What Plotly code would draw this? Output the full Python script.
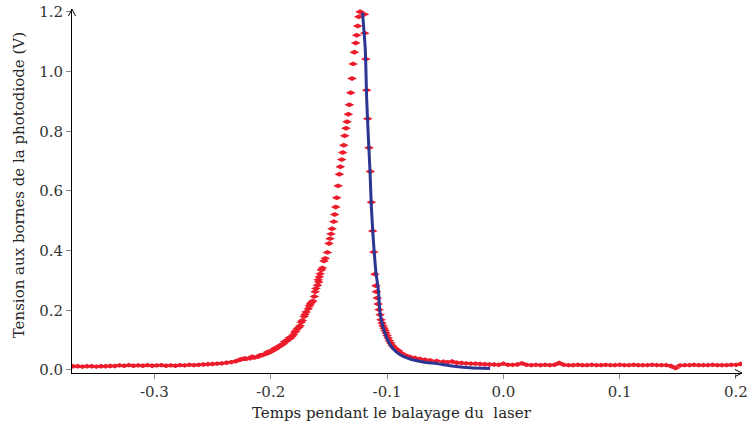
import plotly.graph_objects as go

# Photodiode voltage recorded while sweeping the laser (time in arbitrary sweep units)
t_base_left = [-0.370, -0.366, -0.362, -0.358, -0.354, -0.350, -0.346, -0.342,
               -0.338, -0.334, -0.330, -0.326, -0.322, -0.318, -0.314, -0.310,
               -0.306, -0.302, -0.298, -0.294, -0.290, -0.286, -0.282, -0.278,
               -0.274, -0.270, -0.266, -0.262, -0.258, -0.254, -0.250, -0.246]
v_base_left = [0.012, 0.012, 0.011, 0.012, 0.012, 0.011, 0.012, 0.012,
               0.013, 0.013, 0.015, 0.014, 0.016, 0.014, 0.015, 0.014,
               0.016, 0.014, 0.015, 0.016, 0.014, 0.015, 0.014, 0.016,
               0.015, 0.017, 0.016, 0.017, 0.018, 0.019, 0.020, 0.021]

t_rise = [-0.242, -0.238, -0.234, -0.230, -0.2265, -0.2249, -0.221, -0.2178,
          -0.214, -0.2107, -0.207, -0.2040, -0.201, -0.1983, -0.196, -0.1935,
          -0.191, -0.1892, -0.187, -0.1851, -0.183, -0.1819, -0.1794, -0.1774,
          -0.1760, -0.1748, -0.1728, -0.1713, -0.1696, -0.1677, -0.1660, -0.1639,
          -0.1625, -0.1611, -0.1598, -0.1587, -0.1582, -0.1565, -0.1556, -0.1542,
          -0.1531, -0.1513, -0.1499, -0.1490, -0.1482, -0.1473, -0.1458, -0.1450,
          -0.1441, -0.1433, -0.1421, -0.1410, -0.1402, -0.1390, -0.1381, -0.1372,
          -0.1364, -0.1353, -0.1344, -0.1333, -0.1324, -0.1312, -0.1301, -0.1292,
          -0.1281, -0.1269, -0.1261, -0.1252, -0.1243, -0.1232, -0.1218]
v_rise = [0.022, 0.024, 0.026, 0.029, 0.034, 0.036, 0.037, 0.039,
          0.041, 0.045, 0.050, 0.054, 0.059, 0.065, 0.070, 0.077,
          0.083, 0.088, 0.095, 0.101, 0.106, 0.112, 0.126, 0.137,
          0.142, 0.148, 0.166, 0.179, 0.194, 0.205, 0.221, 0.231,
          0.246, 0.273, 0.284, 0.295, 0.312, 0.335, 0.342, 0.365,
          0.374, 0.394, 0.424, 0.440, 0.456, 0.473, 0.497, 0.521,
          0.546, 0.577, 0.617, 0.656, 0.681, 0.705, 0.729, 0.753,
          0.785, 0.810, 0.832, 0.857, 0.889, 0.929, 0.977, 1.026,
          1.065, 1.096, 1.122, 1.153, 1.184, 1.201, 1.218]

# Extra samples in the dense lower part of the rising edge
t_rise_extra = [-0.2225, -0.2160, -0.2090, -0.2025, -0.1995, -0.1960, -0.1920,
                -0.1880, -0.1840, -0.1805, -0.1785, -0.1738, -0.1705, -0.1668,
                -0.1650, -0.1618, -0.1592, -0.1575]
v_rise_extra = [0.038, 0.044, 0.049, 0.060, 0.064, 0.073, 0.082,
                0.095, 0.108, 0.118, 0.130, 0.160, 0.186, 0.214,
                0.226, 0.262, 0.302, 0.322]

t_fall = [-0.1195, -0.1192, -0.1183, -0.1175, -0.1166, -0.1155, -0.1144, -0.1135,
          -0.1123, -0.1114, -0.1105, -0.1096, -0.1092, -0.1085, -0.1077, -0.1069,
          -0.1060, -0.1052, -0.1043, -0.1035, -0.1026, -0.1017, -0.1009, -0.1000,
          -0.0991, -0.0980, -0.0968, -0.0955, -0.0940, -0.0922, -0.0903, -0.0882,
          -0.0860, -0.0830, -0.0802, -0.0760, -0.0716, -0.0673, -0.0630, -0.0573,
          -0.0516]
v_fall = [1.192, 1.129, 1.042, 0.938, 0.842, 0.745, 0.665, 0.562,
          0.466, 0.395, 0.321, 0.282, 0.262, 0.241, 0.221, 0.202,
          0.185, 0.168, 0.157, 0.148, 0.140, 0.132, 0.124, 0.115,
          0.107, 0.098, 0.090, 0.082, 0.075, 0.069, 0.064, 0.057,
          0.051, 0.047, 0.043, 0.040, 0.0365, 0.034, 0.032, 0.030,
          0.0275]

t_base_right = [-0.048, -0.044, -0.040, -0.036, -0.032, -0.028, -0.024, -0.020,
                -0.016, -0.012, -0.008, -0.004, 0.000, 0.004, 0.008, 0.012,
                0.016, 0.020, 0.024, 0.028, 0.032, 0.036, 0.040, 0.044,
                0.048, 0.052, 0.056, 0.060, 0.064, 0.068, 0.072, 0.076,
                0.080, 0.084, 0.088, 0.092, 0.096, 0.100, 0.104, 0.108,
                0.112, 0.116, 0.120, 0.124, 0.128, 0.132, 0.136, 0.140,
                0.144, 0.148, 0.152, 0.156, 0.160, 0.164, 0.168, 0.172,
                0.176, 0.180, 0.184, 0.188, 0.192, 0.196, 0.200, 0.204]
v_base_right = [0.026, 0.028, 0.024, 0.023, 0.022, 0.021, 0.021, 0.020,
                0.019, 0.018, 0.018, 0.017, 0.021, 0.017, 0.017, 0.018,
                0.022, 0.017, 0.016, 0.017, 0.016, 0.017, 0.016, 0.017,
                0.023, 0.017, 0.016, 0.016, 0.017, 0.016, 0.016, 0.017,
                0.016, 0.016, 0.017, 0.016, 0.016, 0.017, 0.016, 0.016,
                0.017, 0.016, 0.016, 0.016, 0.017, 0.016, 0.016, 0.016,
                0.013, 0.006, 0.015, 0.016, 0.016, 0.017, 0.016, 0.016,
                0.016, 0.017, 0.016, 0.016, 0.016, 0.017, 0.017, 0.020]

# Fitted curve on the falling edge of the resonance
fit_t = [-0.1211, -0.1187, -0.1175, -0.1157, -0.1146, -0.1135, -0.1118, -0.1095,
         -0.1075, -0.1060, -0.1032, -0.0989, -0.0946, -0.0888, -0.0802, -0.0688,
         -0.0573, -0.0458, -0.0286, -0.0114]
fit_v = [1.198, 1.073, 0.906, 0.749, 0.660, 0.548, 0.436, 0.325,
         0.269, 0.191, 0.140, 0.095, 0.070, 0.051, 0.0365, 0.0265,
         0.021, 0.014, 0.0074, 0.005]

x_ticks = [-0.3, -0.2, -0.1, 0.0, 0.1, 0.2]
x_tick_text = ["-0.3", "-0.2", "-0.1", "0.0", "0.1", "0.2"]
y_ticks = [0.0, 0.2, 0.4, 0.6, 0.8, 1.0, 1.2]
y_tick_text = ["0.0", "0.2", "0.4", "0.6", "0.8", "1.0", "1.2"]

x_title = "Temps pendant le balayage du\u00a0 laser"
y_title = "Tension aux bornes de la photodiode (V)"

t_all = t_base_left + t_rise + t_rise_extra + t_fall + t_base_right
v_all = v_base_left + v_rise + v_rise_extra + v_fall + v_base_right

RED = "#ec1c2c"
BLUE = "#2b3692"
FONT = "DejaVu Serif"
TEXT = "#262626"

fig = go.Figure()
fig.add_trace(go.Scatter(
    x=t_all, y=v_all, mode="markers",
    marker=dict(symbol="diamond-wide", size=7, color=RED, line=dict(width=0)),
    error_x=dict(type="constant", value=0.0028, color=RED, thickness=1, width=0),
    showlegend=False, hoverinfo="x+y",
))
fig.add_trace(go.Scatter(
    x=fit_t, y=fit_v, mode="lines",
    line=dict(color=BLUE, width=3, shape="spline", smoothing=0.6),
    showlegend=False,
))

axis_common = dict(
    showline=True, linecolor="black", linewidth=1,
    ticks="outside", ticklen=5, tickcolor="#8a8a8a", tickwidth=1,
    showgrid=False, zeroline=False, automargin=False,
    ticklabeloverflow="allow",
    tickfont=dict(family=FONT, size=15, color="#333333"),
)

fig.update_layout(
    width=747, height=427,
    margin=dict(l=72, r=5, t=9, b=54),
    paper_bgcolor="white", plot_bgcolor="white",
    font=dict(family=FONT, color=TEXT),
    xaxis=dict(range=[-0.3709, 0.2052], tickvals=x_ticks, ticktext=x_tick_text,
               **axis_common),
    yaxis=dict(range=[-0.0104, 1.21], tickvals=y_ticks, ticktext=y_tick_text,
               **axis_common),
)

# Axis titles
fig.add_annotation(text=x_title, xref="paper", yref="paper", x=0.477, y=-0.11,
                   xanchor="center", yanchor="middle", showarrow=False,
                   font=dict(family=FONT, size=15, color=TEXT))
fig.add_annotation(text=y_title, xref="paper", yref="paper", x=-0.079, y=0.516,
                   xanchor="center", yanchor="middle", showarrow=False,
                   textangle=-90, font=dict(family=FONT, size=15, color=TEXT))

# Open arrowheads at the ends of both axes
pw, ph = 747 - 72 - 5, 427 - 9 - 54
ax, ay = 7 / pw, 3.5 / ph
bx, by = 3.5 / pw, 7 / ph
fig.add_shape(type="path", xref="paper", yref="paper",
              path=f"M {1 - ax} {ay} L 1 0 L {1 - ax} {-ay}",
              line=dict(color="black", width=1))
fig.add_shape(type="path", xref="paper", yref="paper",
              path=f"M {-bx} {1 - by} L 0 1 L {bx} {1 - by}",
              line=dict(color="black", width=1))

fig.write_html("out.html")
